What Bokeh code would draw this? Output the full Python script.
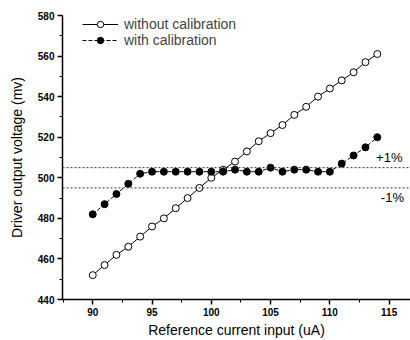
from bokeh.plotting import figure
from bokeh.models import Range1d, Span, Legend, LegendItem, SingleIntervalTicker, ColumnDataSource
from bokeh.core.properties import value
from bokeh.embed import file_html
from bokeh.resources import INLINE

current = [90, 91, 92, 93, 94, 95, 96, 97, 98, 99, 100, 101, 102, 103, 104, 105, 106, 107, 108, 109, 110, 111, 112, 113, 114]
without_cal = [452, 457, 462, 466, 471, 476, 480, 485, 490, 495, 500, 504, 508, 513, 518, 522, 526, 531, 535, 540, 544, 548, 552, 557, 561]
with_cal = [482, 487, 492, 497, 502, 503, 503, 503, 503, 503, 503, 503, 504, 503, 503, 505, 503, 504, 504, 503, 503, 507, 511, 515, 520]
upper_limit = 505
lower_limit = 495
limit_labels = ["+1%", "-1%"]

FONT = "Liberation Sans"

p = figure(width=410, height=340, output_backend="svg", toolbar_location=None,
           x_range=Range1d(87.45, 116.8), y_range=Range1d(440, 580),
           min_border_left=62, min_border_right=0, min_border_top=15, min_border_bottom=41)
p.outline_line_color = None
p.xgrid.visible = False
p.ygrid.visible = False

for ax in (p.xaxis[0], p.yaxis[0]):
    ax.axis_line_width = 1.5
    ax.major_tick_line_width = 1.5
    ax.minor_tick_line_width = 1
    ax.major_tick_in = 0
    ax.major_tick_out = 5
    ax.minor_tick_in = 0
    ax.minor_tick_out = 3
    ax.major_label_text_font = FONT
    ax.major_label_text_font_size = "10px"
    ax.major_label_text_font_style = "bold"
    ax.axis_label_text_font = FONT
    ax.axis_label_text_font_size = "14px"
    ax.axis_label_text_font_style = "normal"
    ax.major_label_text_color = "black"
    ax.axis_label_text_color = "black"
    ax.major_label_standoff = 3

p.xaxis[0].ticker = SingleIntervalTicker(interval=5, num_minor_ticks=2)
p.yaxis[0].ticker = SingleIntervalTicker(interval=20, num_minor_ticks=2)
p.xaxis.axis_label = "Reference current input (uA)"
p.yaxis.axis_label = "Driver output voltage (mv)"
p.xaxis.axis_label_standoff = 3
p.yaxis.axis_label_standoff = 10

for lvl in (upper_limit, lower_limit):
    p.add_layout(Span(location=lvl, dimension="width", line_color="#333333",
                      line_width=1, line_dash="2 2"))

p.text(x=[113.9, 114.3], y=[upper_limit + 1.2, lower_limit - 1.2], text=limit_labels,
       text_font=value(FONT), text_font_size="13px", text_color="black",
       text_baseline=["bottom", "top"], text_align="left")

src = ColumnDataSource(dict(x=current, a=without_cal, b=with_cal))
l1 = p.line("x", "a", source=src, line_color="black", line_width=1)
m1 = p.scatter("x", "a", source=src, marker="circle", size=7, fill_color="white",
               line_color="black", line_width=1)
l2 = p.line("x", "b", source=src, line_color="black", line_width=1, line_dash="4 2")
m2 = p.scatter("x", "b", source=src, marker="circle", size=7, fill_color="black",
               line_color="black", line_width=1)

legend = Legend(items=[LegendItem(label="without calibration", renderers=[l1, m1]),
                       LegendItem(label="with calibration", renderers=[l2, m2])],
                location=(20, 251), border_line_color=None, background_fill_alpha=0,
                padding=0, spacing=0, glyph_width=36, glyph_height=16,
                label_text_font=FONT, label_text_font_size="14px", label_standoff=6,
                label_height=16)
p.add_layout(legend)

open("out.html", "w").write(file_html(p, INLINE))
